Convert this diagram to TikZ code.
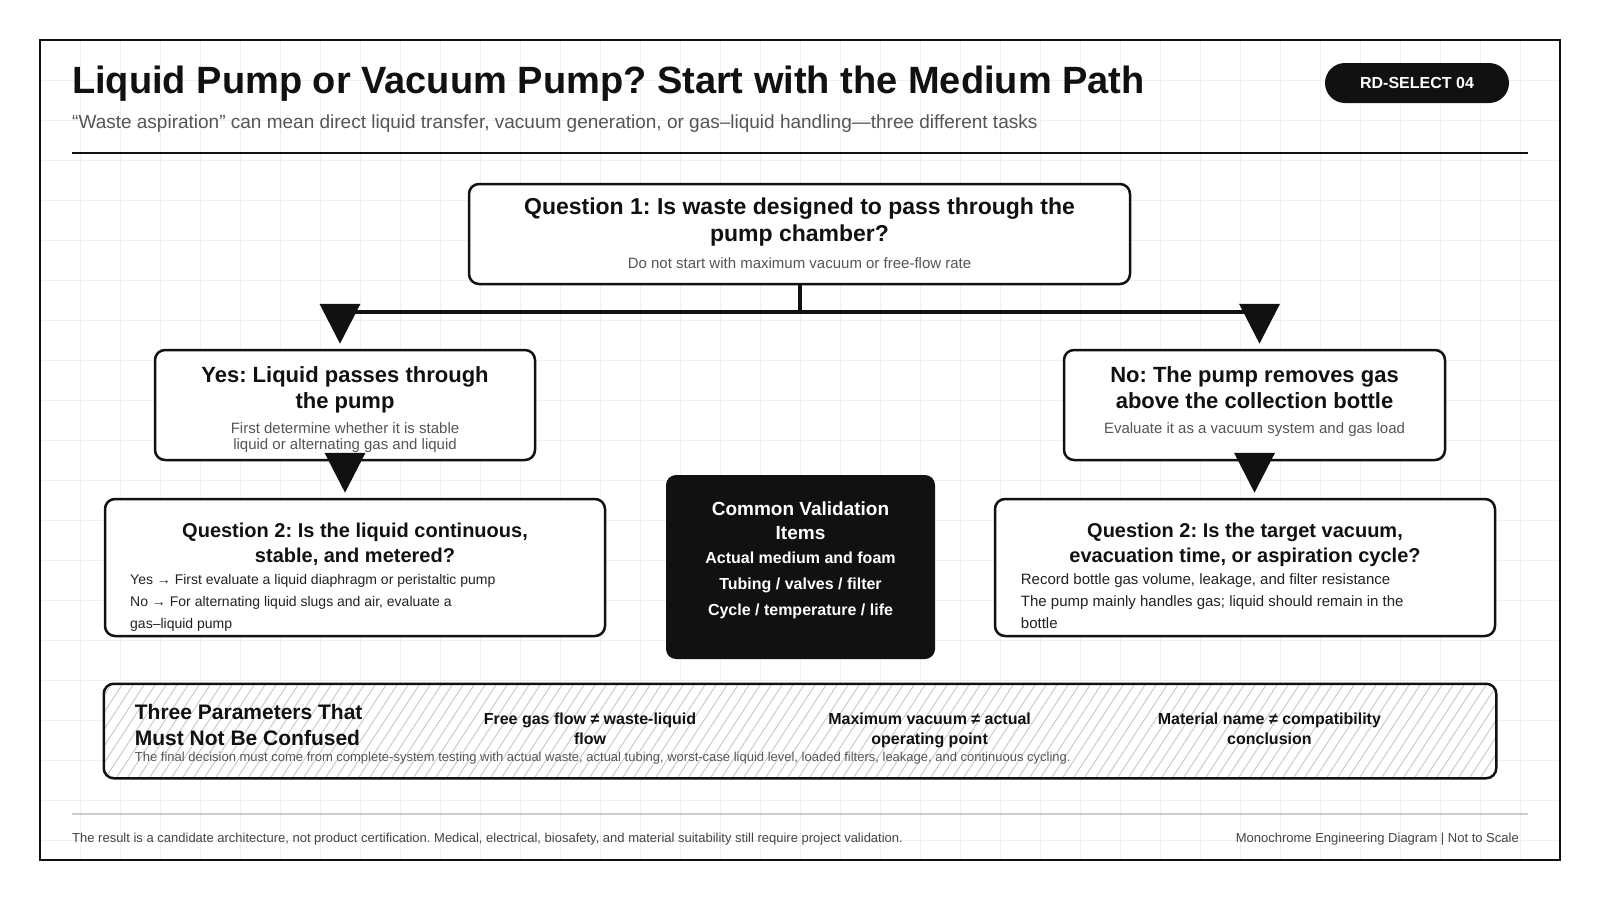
\documentclass[tikz,border=0pt]{standalone}
\usepackage{fontspec}
\setmainfont{Liberation Sans}
\usepackage{tikz}
\usetikzlibrary{arrows.meta,positioning,calc}
\frenchspacing

\definecolor{ink}{HTML}{111111}
\definecolor{subgrey}{HTML}{555555}
\definecolor{bodyink}{HTML}{222222}
\definecolor{gridgrey}{HTML}{F0F0F0}
\definecolor{hatchgrey}{HTML}{C8C8C8}
\definecolor{footrule}{HTML}{CCCCCC}
\definecolor{footgrey}{HTML}{444444}

\begin{document}
\begin{tikzpicture}[x=1pt, y=-1pt,
    box/.style={draw=ink, line width=2.5pt, rounded corners=10pt, fill=white, inner sep=0pt},
    darkbox/.style={fill=ink, rounded corners=10pt, inner sep=0pt},
    qhead/.style={anchor=north, align=center, inner sep=0pt, text=ink, font=\fontsize{20}{25}\selectfont\bfseries},
    qnote/.style={align=center, inner sep=0pt, text=subgrey, font=\fontsize{15}{16.5}\selectfont},
    qbody/.style={anchor=north west, align=left, inner sep=0pt, text=bodyink, font=\fontsize{14}{22}\selectfont},
    whitetext/.style={anchor=north, align=center, inner sep=0pt, text=white},
    pair/.style={anchor=north, align=center, inner sep=0pt, text=ink, font=\fontsize{16}{20}\selectfont\bfseries},
    bar/.style={draw=ink, line width=4pt},
    flow/.style={-{Triangle[width=40pt,length=40pt]}, draw=ink, line width=4pt, shorten >=5pt},
    gridline/.style={draw=gridgrey, line width=1pt},
    hatch/.style={draw=hatchgrey, line width=0.9pt}]

    \useasboundingbox (0,0) rectangle (1600,900);
    \fill[white] (0,0) rectangle (1600,900);

    % background grid and frame
    \foreach \gx in {80,120,...,1520}
        \draw[gridline] (\gx,40) -- (\gx,860);
    \foreach \gy in {80,120,...,840}
        \draw[gridline] (40,\gy) -- (1560,\gy);
    \draw[ink, line width=2.5pt] (40,40) rectangle (1560,860);

    % header
    \node[anchor=base west, inner sep=0pt, text=ink, font=\fontsize{38}{46}\selectfont\bfseries] (title) at (72,93) {Liquid Pump or Vacuum Pump? Start with the Medium Path};
    \node[anchor=base west, inner sep=0pt, text=subgrey, font=\fontsize{19}{22}\selectfont] (subtitle) at (72,128) {“Waste aspiration” can mean direct liquid transfer, vacuum generation, or gas–liquid handling—three different tasks};
    \node[fill=ink, rounded corners=20pt, minimum width=184pt, minimum height=40pt, inner sep=0pt, text=white, font=\fontsize{16}{19}\selectfont\bfseries] (badge) at (1417,83) {RD-SELECT 04};
    \draw[ink, line width=2.5pt] (72,153) -- (1528,153);

    % boxes
    \node[box, minimum width=661pt, minimum height=100pt] (q1) at (799.5,234) {};
    \node[box, minimum width=380pt, minimum height=110pt] (yes) at (345,405) {};
    \node[box, minimum width=381pt, minimum height=110pt] (no) at (1254.5,405) {};
    \node[box, minimum width=500pt, minimum height=137pt] (q2l) at (355,567.5) {};
    \node[box, minimum width=500pt, minimum height=137pt] (q2r) at (1245,567.5) {};
    \node[darkbox, minimum width=269pt, minimum height=184pt] (common) at (800.5,567) {};
    \node[box, draw=none, minimum width=1390pt, minimum height=92pt] (params) at (800,731) {};
    \begin{scope}
        \clip[rounded corners=10pt] (params.north west) rectangle (params.south east);
        \foreach \hx in {40,51,...,1500}
            \draw[hatch] (\hx,777) -- ++(60,-92);
    \end{scope}
    \draw[ink, line width=2.5pt, rounded corners=10pt] (params.north west) rectangle (params.south east);

    % question 1
    \node[qhead, font=\fontsize{23}{27}\selectfont\bfseries] (q1head) at (799.5,197.7) {Question 1: Is waste designed to pass through the\\pump chamber?};
    \node[qnote, anchor=base] (q1note) at (799.5,268.4) {Do not start with maximum vacuum or free-flow rate};

    % yes / no
    \node[qhead, font=\fontsize{22}{25.5}\selectfont\bfseries] (yeshead) at (345,366.6) {Yes: Liquid passes through\\the pump};
    \node[qnote, anchor=north] (yesnote) at (345,422.1) {First determine whether it is stable\\liquid or alternating gas and liquid};
    \node[qhead, font=\fontsize{22}{25.5}\selectfont\bfseries] (nohead) at (1254.5,366.6) {No: The pump removes gas\\above the collection bottle};
    \node[qnote, anchor=base] (nonote) at (1254.5,433.5) {Evaluate it as a vacuum system and gas load};

    % question 2
    \node[qhead] (q2lhead) at (355,523) {Question 2: Is the liquid continuous,\\stable, and metered?};
    \node[qbody] (q2lbody) at (130,574) {Yes → First evaluate a liquid diaphragm or peristaltic pump\\No → For alternating liquid slugs and air, evaluate a\\gas–liquid pump};
    \node[qhead] (q2rhead) at (1245,523) {Question 2: Is the target vacuum,\\evacuation time, or aspiration cycle?};
    \node[qbody, font=\fontsize{15}{22}\selectfont] (q2rbody) at (1020.7,573.5) {Record bottle gas volume, leakage, and filter resistance\\The pump mainly handles gas; liquid should remain in the\\bottle};

    % common items
    \node[whitetext, font=\fontsize{19}{24}\selectfont\bfseries] (commonhead) at (800.5,501.7) {Common Validation\\Items};
    \node[whitetext, font=\fontsize{16}{26}\selectfont\bfseries] (commonitems) at (800.5,551.2) {Actual medium and foam\\Tubing / valves / filter\\Cycle / temperature / life};

    % parameters strip
    \node[anchor=north west, align=left, inner sep=0pt, text=ink, font=\fontsize{21}{26}\selectfont\bfseries] (paramshead) at (134.7,704.4) {Three Parameters That\\Must Not Be Confused};
    \node[pair] (pflow) at (590,712.2) {Free gas flow ≠ waste-liquid\\flow};
    \node[pair] (pvac) at (929.6,712.2) {Maximum vacuum ≠ actual\\operating point};
    \node[pair] (pmat) at (1269.4,712.2) {Material name ≠ compatibility\\conclusion};
    \node[anchor=base west, inner sep=0pt, text=subgrey, font=\fontsize{13}{15}\selectfont] (pfinal) at (134.7,761.5) {The final decision must come from complete-system testing with actual waste, actual tubing, worst-case liquid level, loaded filters, leakage, and continuous cycling.};

    % connectors
    \coordinate (split) at ($(q1.south)+(0,27)$);
    \coordinate (yestop) at ($(yes.north)+(-5,0)$);
    \coordinate (notop) at ($(no.north)+(5,0)$);
    \draw[bar] (q1.south) -- (split);
    \draw[bar] (yestop |- split) -- (notop |- split);
    \draw[flow] (yestop |- split) -- (yestop);
    \draw[flow] (notop |- split) -- (notop);
    \draw[flow] (yes.south) -- (yes.south |- q2l.north);
    \draw[flow] (no.south) -- (no.south |- q2r.north);

    % footer
    \draw[footrule, line width=2pt] (72,814.3) -- (1528,814.3);
    \node[anchor=base west, inner sep=0pt, text=footgrey, font=\fontsize{13}{15}\selectfont] (footleft) at (72,842.7) {The result is a candidate architecture, not product certification. Medical, electrical, biosafety, and material suitability still require project validation.};
    \node[anchor=base east, inner sep=0pt, text=footgrey, font=\fontsize{13}{15}\selectfont] (footright) at (1519,842.7) {Monochrome Engineering Diagram | Not to Scale};
\end{tikzpicture}
\end{document}
